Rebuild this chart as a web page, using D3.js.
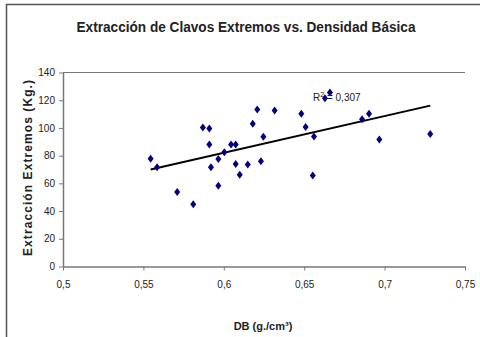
<!DOCTYPE html>
<html>
<head>
<meta charset="utf-8">
<script src="https://cdn.jsdelivr.net/npm/d3@7"></script>
<style>
  body { margin: 0; background: #fff; }
  svg { display: block; font-family: "Liberation Sans", Arial, sans-serif; }
</style>
</head>
<body>
<svg class="chart" width="480" height="337"></svg>
<script>
const title = 'Extracción de Clavos Extremos vs. Densidad Básica';
const xLabel = 'DB (g./cm³)';
const yLabel = 'Extracción Extremos (Kg.)';
const rSquaredLabel = '0,307';

// densidad básica (g/cm3)
const densidad = [0.5545, 0.5585, 0.571, 0.581, 0.587, 0.591, 0.591, 0.592, 0.5966, 0.5966,
  0.6003, 0.6045, 0.6074, 0.6074, 0.6099, 0.6149, 0.618, 0.6208, 0.6231, 0.6246,
  0.6316, 0.6482, 0.6509, 0.6561, 0.6553, 0.6629, 0.666, 0.686, 0.6903, 0.6967, 0.7284];
// extraccion (Kg)
const extraccion = [77.7, 71.7, 53.7, 45, 100.3, 99.6, 88, 71.7, 77.5, 58.2,
  82.5, 88, 88, 73.9, 66.2, 73.6, 103, 113.3, 76, 93.6,
  112.6, 110.2, 100.6, 93.8, 65.7, 121.5, 125.5, 106.3, 110.2, 91.6, 95.7];

const xTicks = [0.5, 0.55, 0.6, 0.65, 0.7, 0.75];
const yTicks = [0, 20, 40, 60, 80, 100, 120, 140];

const startApp = () => {
  const svg = d3.select('.chart');
  const plot = { left: 63, right: 465, top: 72.5, bottom: 266.5 };
  const xScale = d3.scaleLinear().domain([0.5, 0.75]).range([plot.left, plot.right]);
  const yScale = d3.scaleLinear().domain([0, 140]).range([plot.bottom, plot.top]);
  const fmt = d => String(d).replace('.', ',');

  // outer frame (only top and left edges visible)
  svg.append('path')
    .attr('d', 'M6.5,337 V4.5 H480')
    .attr('fill', 'none')
    .attr('stroke', '#555')
    .attr('stroke-width', 1.5);

  svg.append('text')
    .attr('x', 246)
    .attr('y', 32)
    .attr('text-anchor', 'middle')
    .attr('font-weight', 'bold')
    .attr('font-size', 14.5)
    .attr('textLength', 339)
    .attr('lengthAdjust', 'spacingAndGlyphs')
    .attr('fill', '#222')
    .text(title);

  // top line of plot area
  svg.append('line')
    .attr('x1', plot.left).attr('x2', plot.right)
    .attr('y1', yScale(140)).attr('y2', yScale(140))
    .attr('stroke', '#777');

  const yAxis = d3.axisLeft(yScale).tickValues(yTicks).tickSize(4).tickSizeOuter(0).tickPadding(4);
  const gy = svg.append('g').attr('transform', `translate(${plot.left},0)`).call(yAxis);
  const xAxis = d3.axisBottom(xScale).tickValues(xTicks).tickFormat(fmt).tickSize(4).tickSizeOuter(0).tickPadding(10);
  const gx = svg.append('g').attr('transform', `translate(0,${plot.bottom})`).call(xAxis);

  [gx, gy].forEach(g => {
    g.select('.domain').attr('stroke', '#777').attr('stroke-width', 1.5);
    g.selectAll('.tick line').attr('stroke', '#777');
    g.selectAll('.tick text').attr('font-size', 10).attr('fill', '#222')
      .attr('font-family', '"Liberation Sans", Arial, sans-serif');
  });

  svg.append('text')
    .attr('x', 263)
    .attr('y', 330)
    .attr('text-anchor', 'middle')
    .attr('font-weight', 'bold')
    .attr('font-size', 11)
    .attr('fill', '#222')
    .text(xLabel);

  svg.append('text')
    .attr('transform', 'translate(32,168) rotate(-90)')
    .attr('text-anchor', 'middle')
    .attr('font-weight', 'bold')
    .attr('font-size', 12)
    .attr('textLength', 176)
    .attr('lengthAdjust', 'spacing')
    .attr('fill', '#222')
    .text(yLabel);

  const points = densidad.map((d, i) => ({ x: d, y: extraccion[i] }));

  // linear trend line
  const mx = d3.mean(points, p => p.x);
  const my = d3.mean(points, p => p.y);
  const slope = d3.sum(points, p => (p.x - mx) * (p.y - my)) / d3.sum(points, p => (p.x - mx) ** 2);
  const intercept = my - slope * mx;
  const [x0, x1] = d3.extent(densidad);
  svg.append('line')
    .attr('x1', xScale(x0)).attr('y1', yScale(intercept + slope * x0))
    .attr('x2', xScale(x1)).attr('y2', yScale(intercept + slope * x1))
    .attr('stroke', '#000')
    .attr('stroke-width', 2);

  const diamond = 'M0,-4 L3,0 L0,4 L-3,0 Z';
  svg.append('g').selectAll('path')
    .data(points)
    .enter()
    .append('path')
    .attr('d', diamond)
    .attr('transform', p => `translate(${xScale(p.x)},${yScale(p.y)})`)
    .attr('fill', '#000080');

  const r2 = svg.append('text')
    .attr('x', 313)
    .attr('y', 101)
    .attr('font-size', 10)
    .attr('fill', '#222');
  r2.append('tspan').text('R');
  r2.append('tspan').attr('dy', -4).attr('font-size', 7).text('2');
  r2.append('tspan').attr('dy', 4).text(' = ' + rSquaredLabel);
};

window.onload = startApp;
</script>
</body>
</html>
